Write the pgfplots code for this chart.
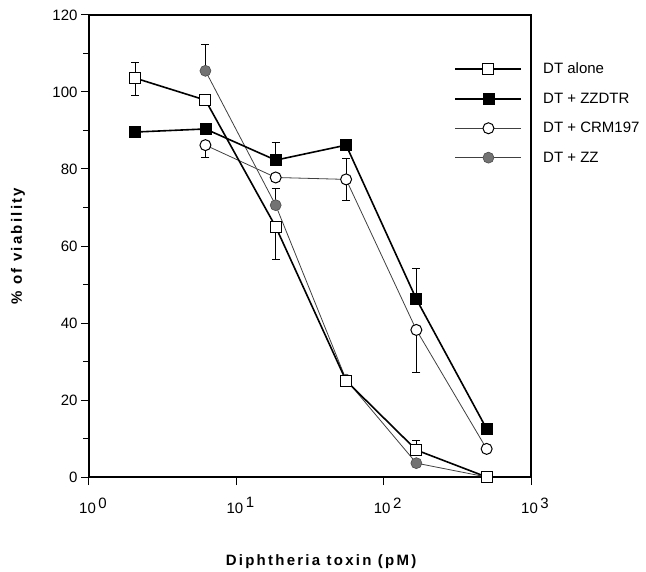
\documentclass[border=0pt]{standalone}
\usepackage{fontspec}
\setmainfont{Liberation Sans}
\newfontfamily\lblfont[LetterSpace=15]{Liberation Sans}
\usepackage{pgfplots}
\pgfplotsset{compat=1.18}
\begin{document}
\begin{tikzpicture}[x=1pt,y=1pt]
\useasboundingbox (-89,-94) rectangle (557,477);
\begin{axis}[
  at={(0,0)}, anchor=south west,
  scale only axis, width=442pt, height=462pt,
  xmode=log, log basis x=10, xmin=1, xmax=1000,
  ymin=0, ymax=120,
  ytick={0,20,...,120}, minor ytick={10,30,...,110},
  xtick={1,10,100,1000},
  xticklabels={{10\,\raisebox{0.7ex}{0}},{10\,\raisebox{0.7ex}{1}},{10\,\raisebox{0.7ex}{2}},{10\,\raisebox{0.7ex}{3}}},
  tick align=outside, tick pos=left,
  major tick length=8pt, minor tick length=6pt,
  every tick/.style={line width=1pt, black},
  axis line style={line width=1.4pt},
  tick label style={font=\fontsize{15}{18}\selectfont},
  /pgf/number format/assume math mode=true,
  xticklabel style={yshift=-9pt, xshift=4pt},
  xlabel={Diphtheria toxin (pM)},
  xlabel style={font=\fontsize{15}{17}\selectfont\lblfont\bfseries, at={(axis description cs:0.525,-0.1840)}, anchor=center},
  ylabel={\% of viability},
  ylabel style={font=\fontsize{15}{17}\selectfont\lblfont\bfseries, at={(axis description cs:-0.1606,0.5)}, anchor=center},
  legend image code/.code={\draw[mark repeat=2,mark phase=2,#1] plot coordinates {(0pt,0pt) (33pt,0pt) (66pt,0pt)};},
  legend style={at={(axis description cs:0.82,0.905)}, anchor=north west, draw=none, fill=none,
    font=\fontsize{15}{18}\selectfont, row sep=13.5pt, column sep=19pt},
  legend cell align=left,
  reverse legend,
  clip=false,
  error bars/error bar style={line width=0.9pt, black},
  error bars/error mark options={rotate=90, mark size=4pt, line width=0.9pt, black},
]
% error bars (drawn first so markers cover them)
\addplot[only marks, mark=none, forget plot, error bars/.cd, y dir=both, y explicit]
  coordinates {(2.06,103.6) += (0,4.2) -= (0,4.4)
               (18.5,65) += (0,0) -= (0,8.6)
               (166.7,7) += (0,2.6) -= (0,0)};
\addplot[only marks, mark=none, forget plot, error bars/.cd, y dir=both, y explicit]
  coordinates {(18.5,82.3) += (0,4.7) -= (0,0)
               (166.7,46.2) += (0,8) -= (0,0)};
\addplot[only marks, mark=none, forget plot, error bars/.cd, y dir=both, y explicit]
  coordinates {(6.17,86.2) += (0,0) -= (0,3.2)
               (55.6,77.3) += (0,5.5) -= (0,5.5)
               (166.7,38.2) += (0,0) -= (0,11)};
\addplot[only marks, mark=none, forget plot, error bars/.cd, y dir=both, y explicit]
  coordinates {(6.17,105.5) += (0,6.8) -= (0,0)
               (18.5,70.6) += (0,4.4) -= (0,0)};
% series
\addplot[black!75, line width=0.8pt, mark=*, mark size=5.5pt, mark options={fill=black!55, draw=black!70, line width=0.6pt}]
  coordinates {(6.17,105.5) (18.5,70.6) (55.6,25.3) (166.7,3.6) (500,0)};
\addlegendentry{DT + ZZ}
\addplot[black!75, line width=0.8pt, mark=*, mark size=5.5pt, mark options={fill=white, draw=black, line width=1pt}]
  coordinates {(6.17,86.2) (18.5,77.8) (55.6,77.3) (166.7,38.2) (500,7.3)};
\addlegendentry{DT + CRM197}
\addplot[black, line width=1.6pt, mark=square*, mark size=5.5pt, mark options={fill=black, draw=black, line width=0.8pt}]
  coordinates {(2.06,89.6) (6.17,90.4) (18.5,82.3) (55.6,86.2) (166.7,46.2) (500,12.5)};
\addlegendentry{DT + ZZDTR}
\addplot[black, line width=1.6pt, mark=square*, mark size=5.5pt, mark options={fill=white, draw=black, line width=1pt}]
  coordinates {(2.06,103.6) (6.17,97.9) (18.5,65) (55.6,25) (166.7,7) (500,0)};
\addlegendentry{DT alone}
\end{axis}
\end{tikzpicture}
\end{document}
